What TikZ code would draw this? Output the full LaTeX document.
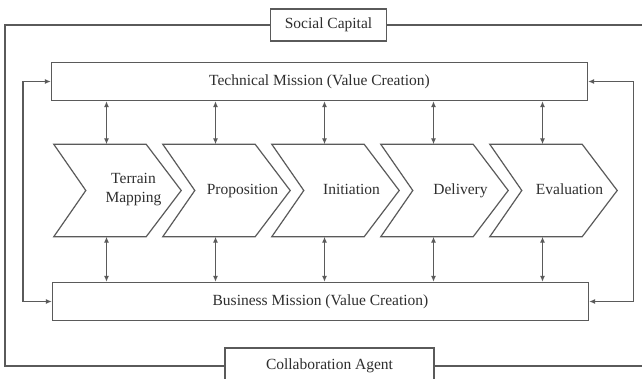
\documentclass[tikz,border=0pt]{standalone}
\usepackage{fontspec}
\setmainfont{Liberation Serif}
\usetikzlibrary{arrows.meta}
\definecolor{linegray}{HTML}{5A5A5A}
\definecolor{textgray}{HTML}{2E2E2E}
\tikzset{
	box/.style={draw=linegray, line width=1.2pt, fill=white, inner sep=0pt, text=textgray, font=\fontsize{15.5}{19}\selectfont},
	stage/.style={minimum width=95pt, minimum height=92pt, inner sep=0pt, align=center, text=textgray, font=\fontsize{15.5}{19}\selectfont, execute at begin node=\strut},
	link/.style={draw=linegray, line width=1.2pt, {Latex[length=6pt,width=5pt]}-{Latex[length=6pt,width=5pt]}},
	frame/.style={draw=linegray, line width=1.2pt}
}
\begin{document}
\begin{tikzpicture}[x=1pt, y=-1pt]
		\useasboundingbox (0,0) rectangle (642,379);
		\node[box, minimum width=536pt, minimum height=38pt](tech) at (319.5,81.5){Technical Mission (Value Creation)};
		\node[box, minimum width=536pt, minimum height=38pt](business) at (320.5,301.5){Business Mission (Value Creation)};
		\node[box, minimum width=116pt, minimum height=32pt](social) at (328.5,25){Social Capital};
		\node[box, minimum width=209pt, minimum height=36pt](agent) at (329.5,366){Collaboration Agent};
		\node[stage](one) at (133.5,190.5){Terrain\\ Mapping};
		\node[stage](two) at (242.5,190.5){Proposition};
		\node[stage](three) at (351.5,190.5){Initiation};
		\node[stage](four) at (460.5,190.5){Delivery};
		\node[stage](five) at (569.5,190.5){Evaluation};
		\coordinate(topend) at (646,25);
		\coordinate(bottomend) at (646,366);
		% chevron outlines round the stage nodes
		\foreach \s in {one,two,three,four,five}{
			\draw [frame, line join=miter] ([xshift=-32pt]\s.north west) -- ([xshift=-35pt]\s.north east) -- (\s.east) -- ([xshift=-35pt]\s.south east) -- ([xshift=-32pt]\s.south west) -- (\s.west) -- cycle;
			\draw [link] ([xshift=-27pt]\s.north |- tech.south) -- ([xshift=-27pt]\s.north);
			\draw [link] ([xshift=-27pt]\s.south) -- ([xshift=-27pt]\s.south |- business.north);
		}
		\draw [link] (tech.west) -- ++(-28,0) |- (business.west);
		\draw [link] (tech.east) -- ++(45,0) |- (business.east);
		\draw [frame] (social.west) -| (5,366) -- (agent.west);
		\draw [frame] (social.east) -- (topend);
		\draw [frame] (agent.east) -- (bottomend);
	\end{tikzpicture}
\end{document}
